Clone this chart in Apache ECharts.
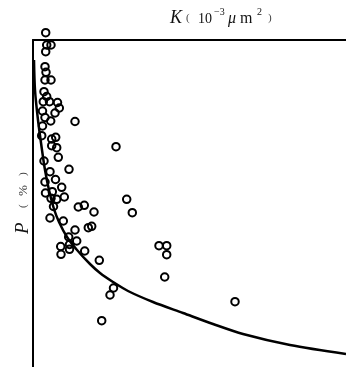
<!DOCTYPE html>
<html>
<head>
<meta charset="utf-8">
<script src="https://cdn.jsdelivr.net/npm/echarts@6/dist/echarts.min.js"></script>
<style>html,body{margin:0;padding:0;background:#fff;}#c{width:346px;height:367px;}</style>
</head>
<body>
<div id="c"></div>
<script>
// Scatter samples: permeability K (relative units) and porosity P (relative units)
var kValues = [12.7,13.7,18,12.7,12,13,12,18,11,13.7,10.3,16.5,24.5,26.3,22,9.5,12,17.7,42,9.5,
  8.7,18.7,22.7,18.7,23.7,25.3,83,11,17,36,22.5,12,28.7,19.3,12.5,31.3,18,23.7,93.7,45.3,
  51.3,20.5,61,99.3,17,30.3,42,55.3,58.7,35.7,43.7,27.7,36.5,36.5,28,51.7,66.3,126,133.7,133.7,
  131.7,80.5,77,68.7,202];
var pValues = [334.3,322,322,315.3,300.3,294.7,287,287,275.3,270.5,265.3,265.3,264.5,259,254,256,249.5,246,245.5,241,
  231.3,228,229.7,221.3,219.3,209.7,220.3,206,195.3,197.7,187.5,185,179.7,175.3,174,170,168.7,167.7,167.7,160,
  161.7,160.5,155,154.3,149,146,137,139.3,140.7,130,126,120.5,122.5,117.7,112.7,116,106.7,121.3,121.3,112.3,
  90,79,72,46.3,65.3];
// Fitted curve
var curveK = [1,2,5,9,12,16,21,26,34,44,57,67,80,95,120,150,180,210,257,313];
var curveP = [307,277,247,217,197,177,158,145,130,117,103,94,85,76,65,54,43,33,22,13];

var scatterData = kValues.map(function(k,i){return [k,pValues[i]];});
var curveData = curveK.map(function(k,i){return [k,curveP[i]];});

var chart = echarts.init(document.getElementById('c'), null, {renderer:'canvas'});
var serif = '"Liberation Serif","DejaVu Serif",serif';
chart.setOption({
  animation:false,
  backgroundColor:'#fff',
  grid:{left:33,right:0,top:40,bottom:0,containLabel:false},
  xAxis:{type:'value',min:0,max:313,position:'top',
    axisLine:{show:true,onZero:false,lineStyle:{color:'#000',width:2}},
    axisTick:{show:false},axisLabel:{show:false},splitLine:{show:false}},
  yAxis:{type:'value',min:0,max:327,
    axisLine:{show:true,onZero:false,lineStyle:{color:'#000',width:2}},
    axisTick:{show:false},axisLabel:{show:false},splitLine:{show:false}},
  series:[
    {type:'line',data:curveData,smooth:0.3,showSymbol:false,clip:false,
      lineStyle:{color:'#000',width:2.5},z:2},
    {type:'scatter',data:scatterData,symbol:'circle',symbolSize:7.5,clip:false,
      itemStyle:{color:'rgba(0,0,0,0)',borderColor:'#000',borderWidth:2,opacity:1},z:3}
  ],
  graphic:[
    {type:'text',left:170,top:9,style:{text:'K',font:'italic 18px '+serif,fill:'#111'}},
    {type:'text',left:186,top:13,style:{text:'(',font:'11px '+serif,fill:'#444'}},
    {type:'text',left:198,top:12,style:{text:'10',font:'14px '+serif,fill:'#111'}},
    {type:'text',left:214,top:7,style:{text:'−3',font:'10px '+serif,fill:'#111'}},
    {type:'text',left:228,top:11,style:{text:'μ',font:'italic 16px '+serif,fill:'#111'}},
    {type:'text',left:240,top:11,style:{text:'m',font:'16px '+serif,fill:'#111'}},
    {type:'text',left:257,top:7,style:{text:'2',font:'10px '+serif,fill:'#111'}},
    {type:'text',left:268,top:13,style:{text:')',font:'11px '+serif,fill:'#444'}},
    {type:'group',x:13,y:234,rotation:Math.PI/2,children:[
      {type:'text',x:0,y:0,style:{text:'P',font:'italic 19px '+serif,fill:'#111'}},
      {type:'text',x:26,y:5,style:{text:'(',font:'11px '+serif,fill:'#444'}},
      {type:'text',x:38,y:4,style:{text:'%',font:'13px '+serif,fill:'#333'}},
      {type:'text',x:58,y:5,style:{text:')',font:'11px '+serif,fill:'#444'}}
    ]}
  ]
});
</script>
</body>
</html>
